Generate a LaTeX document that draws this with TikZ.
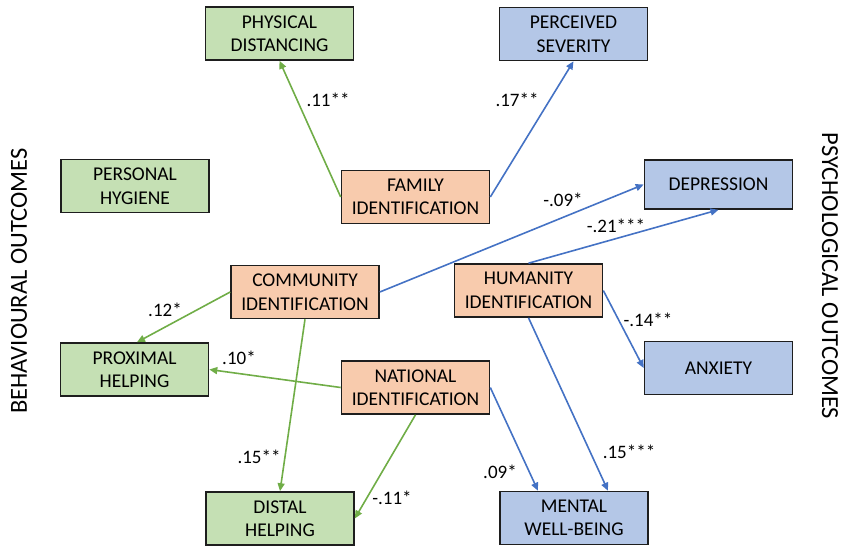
\documentclass[tikz,border=0pt]{standalone}
\usepackage{fontspec}
\setmainfont{Carlito}
\usetikzlibrary{arrows.meta}
\definecolor{gfill}{HTML}{C5E0B4}
\definecolor{bfill}{HTML}{B4C7E7}
\definecolor{ofill}{HTML}{F8CBAD}
\definecolor{garr}{HTML}{70AD47}
\definecolor{barr}{HTML}{4472C4}
\definecolor{bord}{HTML}{1E1E1E}
\tikzset{
  box/.style={draw=bord, line width=1.6pt, minimum width=148pt, minimum height=53pt,
    inner sep=0pt, align=center, font=\fontsize{19.5pt}{23.5pt}\selectfont, text=black},
  gbox/.style={box, fill=gfill},
  bbox/.style={box, fill=bfill},
  obox/.style={box, fill=ofill},
  garrow/.style={draw=garr, line width=1.6pt, -{Triangle[length=8pt,width=7pt]}},
  barrow/.style={draw=barr, line width=1.6pt, -{Triangle[length=8pt,width=7pt]}},
  coef/.style={font=\fontsize{19pt}{22pt}\selectfont, inner sep=0pt, text=black},
  side/.style={font=\fontsize{24.5pt}{28pt}\selectfont, inner sep=0pt, text=black}
}
\begin{document}
\begin{tikzpicture}[x=1pt,y=-1pt]
\useasboundingbox (0,0) rectangle (841,547);
% nodes
\node[gbox] (pd) at (279.5,33.5) {PHYSICAL\\DISTANCING};
\node[bbox] (ps) at (573.5,34) {PERCEIVED\\SEVERITY};
\node[obox] (fam) at (415.5,197) {FAMILY\\IDENTIFICATION};
\node[gbox] (ph) at (135,186) {PERSONAL\\HYGIENE};
\node[obox] (com) at (305,292) {COMMUNITY\\IDENTIFICATION};
\node[gbox] (prox) at (134.5,369.5) {PROXIMAL\\HELPING};
\node[obox] (nat) at (415.5,387.5) {NATIONAL\\IDENTIFICATION};
\node[gbox] (dist) at (280,518.5) {DISTAL\\HELPING};
\node[bbox, minimum height=49pt] (dep) at (718.5,184.5) {DEPRESSION};
\node[obox] (hum) at (528.5,290.5) {HUMANITY\\IDENTIFICATION};
\node[bbox] (anx) at (718.5,368) {ANXIETY};
\node[bbox] (mwb) at (574,518) {MENTAL\\WELL-BEING};
% side labels
\node[side, rotate=90] (beh) at (19,281) {BEHAVIOURAL OUTCOMES};
\node[side, rotate=-90] (psy) at (830,276) {PSYCHOLOGICAL OUTCOMES};
% arrows
\draw[garrow] (fam.west) -- (pd.south);
\draw[barrow] (fam.east) -- (ps.south);
\draw[barrow] (com.east) -- (dep.west);
\draw[barrow] (hum.north) -- (dep.south);
\draw[barrow] (hum.east) -- (anx.west);
\draw[barrow] (hum.south) -- ([xshift=34pt]mwb.north);
\draw[barrow] (nat.east) -- ([xshift=-36pt]mwb.north);
\draw[garrow] (com.west) -- ([xshift=2.5pt]prox.north);
\draw[garrow] (nat.west) -- (prox.east);
\draw[garrow] (com.south) -- (dist.north);
\draw[garrow] (nat.south) -- (dist.east);
% coefficients
\node[coef] (c1) at (328,100) {.11**};
\node[coef] (c2) at (517,100) {.17**};
\node[coef] (c3) at (563,200) {-.09*};
\node[coef] (c4) at (616,226) {-.21***};
\node[coef] (c5) at (648,320) {-.14**};
\node[coef] (c6) at (629,452) {.15***};
\node[coef] (c7) at (500,472) {.09*};
\node[coef] (c8) at (165,310) {.12*};
\node[coef] (c9) at (239,358) {.10*};
\node[coef] (c10) at (259,457) {.15**};
\node[coef] (c11) at (392,498) {-.11*};
\end{tikzpicture}
\end{document}
